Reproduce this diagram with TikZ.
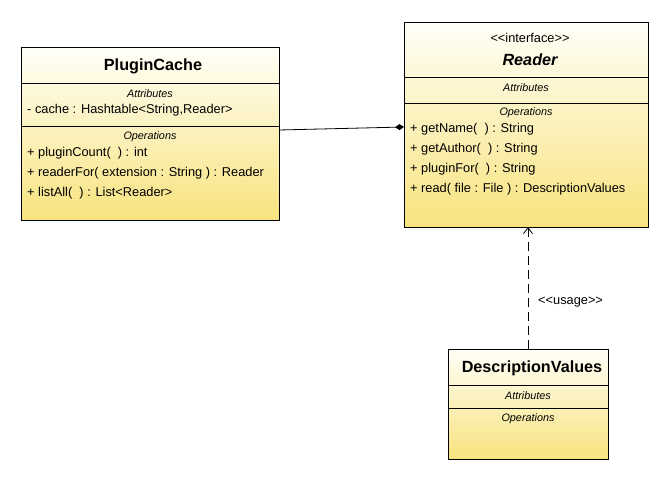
\documentclass[tikz,border=0pt]{standalone}
\usepackage{fontspec}
\setmainfont{Liberation Sans}[Ligatures=ResetAll]
\usetikzlibrary{arrows.meta}
\definecolor{boxtop}{HTML}{FFFFF8}
\definecolor{boxbot}{HTML}{F8E37E}
\tikzset{
  umlbox/.style={draw=black, line width=0.8pt, top color=boxtop, bottom color=boxbot},
  sep/.style={draw=black, line width=0.8pt},
  title/.style={font=\fontsize{16.2}{18}\selectfont\bfseries, anchor=center, inner sep=0pt},
  ititle/.style={font=\fontsize{16.2}{18}\selectfont\bfseries\itshape, anchor=center, inner sep=0pt},
  stereo/.style={font=\fontsize{12.8}{14}\selectfont, anchor=center, inner sep=0pt},
  comp/.style={font=\fontsize{10.8}{12}\selectfont\itshape, anchor=center, inner sep=0pt},
  member/.style={font=\fontsize{12.8}{14}\selectfont, anchor=west, inner sep=0pt},
  conn/.style={draw=black, line width=0.8pt},
}
\begin{document}
\begin{tikzpicture}[x=1pt,y=-1pt]
\useasboundingbox (0,0) rectangle (667,479);
% PluginCache
\path[umlbox] (21,47) rectangle (279,220);
\draw[sep] (21,83) -- (279,83);
\draw[sep] (21,126) -- (279,126);
\node[title] (pcT) at (153,66) {PluginCache};
\node[comp] (pcA) at (150,94) {Attributes};
\node[member] (pc1) at (27,110) {- cache : Hashtable<String,Reader>};
\node[comp] (pcO) at (150,137) {Operations};
\node[member] (pc2) at (27,153) {+ pluginCount(\ \ ) : int};
\node[member] (pc3) at (27,173) {+ readerFor( extension : String ) : Reader};
\node[member] (pc4) at (27,193) {+ listAll(\ \ ) : List<Reader>};
\coordinate (pcR) at (279,130);
% Reader
\path[umlbox] (404,22) rectangle (648,227);
\draw[sep] (404,77) -- (648,77);
\draw[sep] (404,103) -- (648,103);
\node[stereo] (rS) at (530,38) {<{}<interface>{}>};
\node[ititle] (rT) at (530,60) {Reader};
\node[comp] (rA) at (526,88) {Attributes};
\node[comp] (rO) at (526,113) {Operations};
\node[member] (r1) at (410,129) {+ getName(\ \ ) : String};
\node[member] (r2) at (410,149) {+ getAuthor(\ \ ) : String};
\node[member] (r3) at (410,169) {+ pluginFor(\ \ ) : String};
\node[member] (r4) at (410,189) {+ read( file : File ) : DescriptionValues};
\coordinate (rL) at (404,127);
\coordinate (rB) at (528,227);
% DescriptionValues
\path[umlbox] (448,349) rectangle (608,459);
\draw[sep] (448,385) -- (608,385);
\draw[sep] (448,408) -- (608,408);
\node[title] (dT) at (532,368) {DescriptionValues};
\node[comp] (dA) at (528,396) {Attributes};
\node[comp] (dO) at (528,419) {Operations};
\coordinate (dTop) at (528,349);
% connectors
\draw[conn, -{Diamond[length=9pt,width=6pt]}] (pcR) -- (rL);
\draw[conn, dash pattern=on 9pt off 5pt, -{Straight Barb[length=6pt,width=9pt]}] (dTop) -- (rB);
\node[stereo, anchor=west] (usage) at (538,302) {<{}<usage>{}>};
\end{tikzpicture}
\end{document}
